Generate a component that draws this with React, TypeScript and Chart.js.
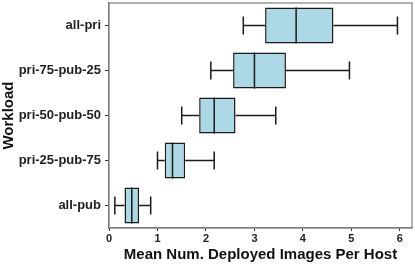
import React, { useEffect, useRef } from "react";
import { Chart, registerables } from "chart.js";

Chart.register(...registerables);

const categories = ["all-pri", "pri-75-pub-25", "pri-50-pub-50", "pri-25-pub-75", "all-pub"];
const whiskerLow = [2.77, 2.1, 1.5, 1.0, 0.12];
const q1 = [3.22, 2.56, 1.86, 1.15, 0.32];
const median = [3.86, 3.0, 2.17, 1.31, 0.47];
const q3 = [4.63, 3.65, 2.61, 1.57, 0.62];
const whiskerHigh = [5.95, 4.96, 3.44, 2.17, 0.86];
const xTicks = [0, 1, 2, 3, 4, 5, 6];

const FONT = "'Liberation Sans', Arial, Helvetica, sans-serif";

const boxPlugin = {
  id: "boxExtras",
  afterDatasetsDraw(chart: any) {
    const ctx = chart.ctx;
    const xs = chart.scales.x;
    const ys = chart.scales.y;
    const step = Math.abs(ys.getPixelForValue(1) - ys.getPixelForValue(0));
    const boxH = step * 0.8;
    const capH = step * 0.4;
    ctx.save();
    ctx.strokeStyle = "#1a1a1a";
    ctx.lineWidth = 1.5;
    categories.forEach((_, i) => {
      const y = ys.getPixelForValue(i);
      const lo = xs.getPixelForValue(whiskerLow[i]);
      const a = xs.getPixelForValue(q1[i]);
      const m = xs.getPixelForValue(median[i]);
      const b = xs.getPixelForValue(q3[i]);
      const hi = xs.getPixelForValue(whiskerHigh[i]);
      ctx.beginPath();
      ctx.moveTo(lo, y);
      ctx.lineTo(a, y);
      ctx.moveTo(b, y);
      ctx.lineTo(hi, y);
      ctx.moveTo(lo, y - capH / 2);
      ctx.lineTo(lo, y + capH / 2);
      ctx.moveTo(hi, y - capH / 2);
      ctx.lineTo(hi, y + capH / 2);
      ctx.moveTo(m, y - boxH / 2);
      ctx.lineTo(m, y + boxH / 2);
      ctx.stroke();
    });
    const ca = chart.chartArea;
    ctx.strokeStyle = "#7f7f7f";
    ctx.lineWidth = 1.2;
    ctx.strokeRect(ca.left, ca.top, ca.right - ca.left, ca.bottom - ca.top);
    ctx.restore();
  },
};

export default function App() {
  const ref = useRef<HTMLCanvasElement>(null);
  useEffect(() => {
    document.body.style.margin = "0";
    const chart = new Chart(ref.current!, {
      type: "bar",
      data: {
        labels: categories,
        datasets: [
          {
            data: categories.map((_, i) => [q1[i], q3[i]]) as any,
            backgroundColor: "#add8e6",
            borderColor: "#1a1a1a",
            borderWidth: 1.5,
            borderSkipped: false,
            barPercentage: 0.8,
            categoryPercentage: 1,
          },
        ],
      },
      options: {
        indexAxis: "y",
        animation: false,
        responsive: false,
        maintainAspectRatio: false,
        layout: { padding: { left: 0, top: 3, right: 3, bottom: 0 } },
        plugins: { legend: { display: false }, tooltip: { enabled: false } },
        scales: {
          x: {
            type: "linear",
            min: 0,
            max: 6.25,
            afterBuildTicks(axis: any) {
              axis.ticks = xTicks.map((v) => ({ value: v }));
            },
            afterFit(scale: any) {
              scale.height = 36;
              scale.paddingLeft = 0;
              scale.paddingRight = 0;
            },
            grid: { drawOnChartArea: false, drawTicks: true, tickLength: 3, color: "#333" },
            border: { display: true, color: "#7f7f7f", width: 1.2 },
            ticks: {
              color: "#222",
              padding: 1,
              font: { family: FONT, size: 11, weight: "bold" },
            },
            title: {
              display: true,
              text: "Mean Num. Deployed Images Per Host",
              color: "#111",
              padding: { top: 0, bottom: 0 },
              font: { family: FONT, size: 15, weight: "bold" },
            },
          },
          y: {
            type: "category",
            offset: true,
            afterFit(scale: any) {
              scale.width = 109;
              scale.paddingTop = 0;
              scale.paddingBottom = 0;
            },
            grid: { drawOnChartArea: false, drawTicks: true, tickLength: 4, color: "#333", offset: false },
            border: { display: true, color: "#7f7f7f", width: 1.2 },
            ticks: {
              color: "#222",
              padding: 4,
              font: { family: FONT, size: 13, weight: "bold" },
            },
            title: {
              display: true,
              text: "Workload",
              color: "#111",
              padding: { top: 0, bottom: 0 },
              font: { family: FONT, size: 15, weight: "bold" },
            },
          },
        },
      },
      plugins: [boxPlugin],
    });
    return () => chart.destroy();
  }, []);
  return (
    <div style={{ position: "absolute", left: 0, top: 0, width: 415, height: 264 }}>
      <canvas ref={ref} width={415} height={264} style={{ width: 415, height: 264 }} />
    </div>
  );
}
